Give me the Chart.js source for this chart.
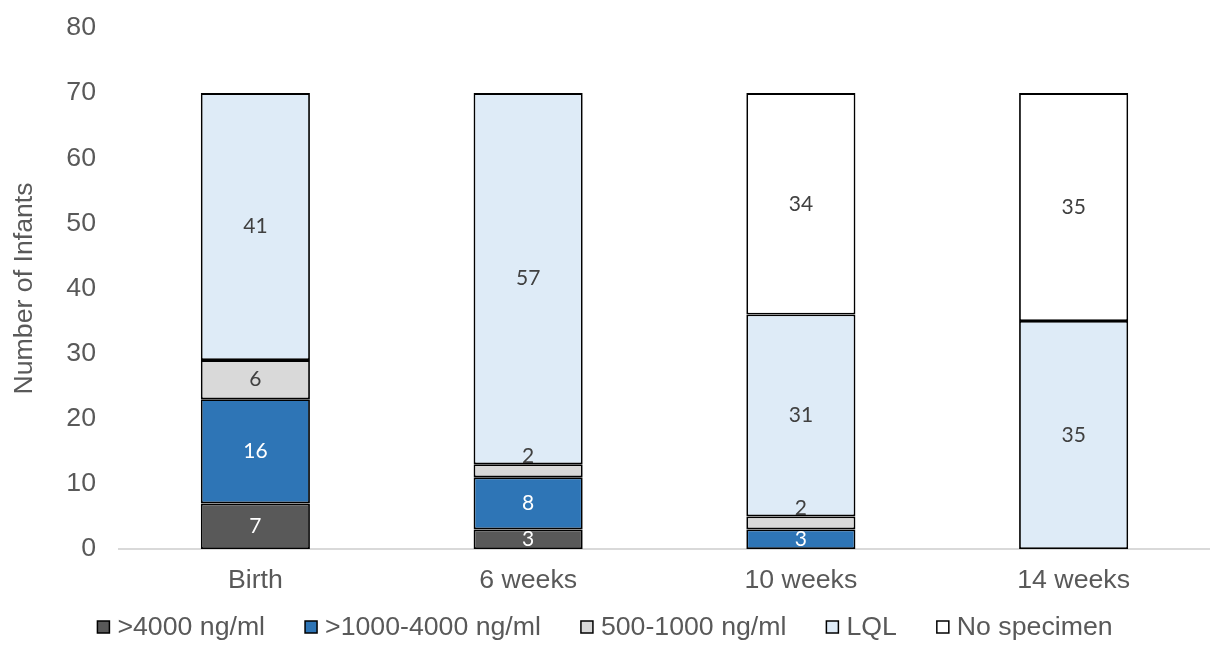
<!DOCTYPE html>
<html>
<head>
<meta charset="utf-8">
<script src="https://cdn.jsdelivr.net/npm/chart.js@4/dist/chart.umd.min.js"></script>
<style>
  html, body { margin: 0; padding: 0; background: #ffffff; }
  #wrap { width: 1210px; height: 651px; position: relative; }
</style>
</head>
<body>
<div id="wrap"><canvas id="chart"></canvas></div>
<script>
// Time points
const categories = ['Birth', '6 weeks', '10 weeks', '14 weeks'];

// Infant counts per concentration group at each time point
const over4000 = [7, 3, 0, 0];
const from1000to4000 = [16, 8, 3, 0];
const from500to1000 = [6, 2, 2, 0];
const lql = [41, 57, 31, 35];
const noSpecimen = [0, 0, 34, 35];

const seriesNames = ['>4000 ng/ml', '>1000-4000 ng/ml', '500-1000 ng/ml', 'LQL', 'No specimen'];

// Y axis ticks
const yTicks = [0, 10, 20, 30, 40, 50, 60, 70, 80];

const fills = ['#595959', '#2e75b6', '#d9d9d9', '#deebf7', '#ffffff'];
const labelColors = ['#ffffff', '#ffffff', '#404040', '#404040', '#404040'];

const values = [over4000, from1000to4000, from500to1000, lql, noSpecimen];

const AXIS_FONT = '"Liberation Sans", Arial, sans-serif';
const AXIS_SIZE = 26.7;
const TEXT_GREY = '#595959';

// empty groups are left out so no outline is drawn for them
const datasets = values.map((v, i) => ({
  label: seriesNames[i],
  data: v.map(n => (n === 0 ? null : n)),
  backgroundColor: fills[i],
  borderColor: '#000000',
  borderWidth: 1.8,
  borderSkipped: false,
  categoryPercentage: 1.0,
  barPercentage: 0.4
}));

// Writes each value in its segment; very thin segments get it just above
const segmentLabels = {
  id: 'segmentLabels',
  afterDatasetsDraw(chart) {
    const ctx = chart.ctx;
    ctx.save();
    ctx.font = '21px Lato, "Open Sans", sans-serif';
    ctx.textAlign = 'center';
    ctx.textBaseline = 'middle';
    chart.data.datasets.forEach((ds, di) => {
      const meta = chart.getDatasetMeta(di);
      meta.data.forEach((bar, i) => {
        const v = ds.data[i];
        if (!v) return;
        const { x, y, base } = bar.getProps(['x', 'y', 'base'], true);
        const h = Math.abs(base - y);
        const lift = h < 15 ? 15 : 0;
        ctx.fillStyle = labelColors[di];
        ctx.fillText(String(v), x, (y + base) / 2 - lift);
      });
    });
    ctx.restore();
  }
};

// Legend row under the axis: small outlined square, then the series name
const bottomLegend = {
  id: 'bottomLegend',
  afterDraw(chart) {
    const ctx = chart.ctx;
    const box = 12, gap = 8, spacing = 40;
    const cy = 627;
    ctx.save();
    ctx.font = AXIS_SIZE + 'px ' + AXIS_FONT;
    ctx.textBaseline = 'middle';
    ctx.textAlign = 'left';
    const items = chart.data.datasets.map(ds => ({
      text: ds.label, fill: ds.backgroundColor, w: ctx.measureText(ds.label).width
    }));
    const total = items.reduce((s, it) => s + box + gap + it.w, 0) + spacing * (items.length - 1);
    let x = (chart.width - total) / 2;
    items.forEach(it => {
      ctx.fillStyle = it.fill;
      ctx.fillRect(x, cy - box / 2, box, box);
      ctx.strokeStyle = '#000000';
      ctx.lineWidth = 1.5;
      ctx.strokeRect(x, cy - box / 2, box, box);
      x += box + gap;
      ctx.fillStyle = TEXT_GREY;
      ctx.fillText(it.text, x, cy + 1);
      x += it.w + spacing;
    });
    ctx.restore();
  }
};

new Chart(document.getElementById('chart'), {
  type: 'bar',
  data: { labels: categories, datasets },
  plugins: [segmentLabels, bottomLegend],
  options: {
    responsive: true,
    maintainAspectRatio: false,
    animation: false,
    layout: { padding: { left: 0, right: 0, top: 28, bottom: 38 } },
    plugins: {
      tooltip: { enabled: false },
      legend: { display: false }
    },
    scales: {
      x: {
        stacked: true,
        grid: { display: false, drawTicks: false },
        border: { display: true, color: '#d9d9d9', width: 2 },
        ticks: {
          color: TEXT_GREY,
          padding: 16,
          font: { family: AXIS_FONT, size: AXIS_SIZE }
        }
      },
      y: {
        stacked: true,
        min: 0,
        max: 80,
        afterBuildTicks(scale) { scale.ticks = yTicks.map(v => ({ value: v })); },
        afterFit(scale) {
          scale.width = 119;
          scale.paddingTop = 0;
          scale.paddingBottom = 0;
        },
        grid: { display: false, drawTicks: false },
        border: { display: false },
        title: {
          display: true,
          text: 'Number of Infants',
          color: TEXT_GREY,
          padding: { top: 9, bottom: 0 },
          font: { family: AXIS_FONT, size: AXIS_SIZE }
        },
        ticks: {
          color: TEXT_GREY,
          padding: 23,
          font: { family: AXIS_FONT, size: AXIS_SIZE }
        }
      }
    }
  }
});
</script>
</body>
</html>
